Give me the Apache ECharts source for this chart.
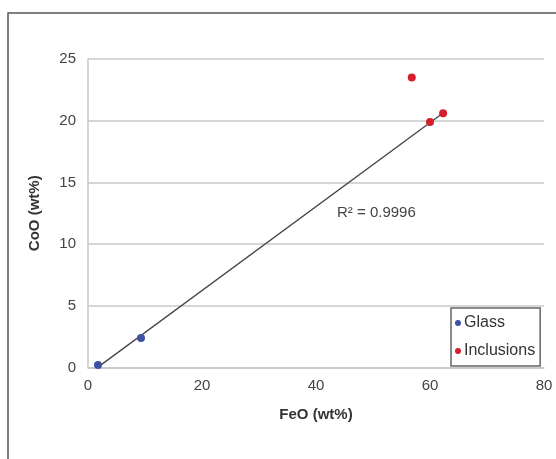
<!DOCTYPE html>
<html>
<head>
<meta charset="utf-8">
<script src="https://cdn.jsdelivr.net/npm/echarts@6/dist/echarts.min.js"></script>
<style>
  html, body { margin: 0; padding: 0; background: #fff; }
  #chart { width: 556px; height: 459px; }
</style>
</head>
<body>
<div id="chart"></div>
<script>
// FeO vs CoO (wt%) measurements
const glassFeO = [1.75, 9.3];
const glassCoO = [0.2, 2.4];
const inclFeO = [56.8, 60.0, 62.3];
const inclCoO = [23.5, 19.9, 20.6];
// inclusions that follow the trend (the high-CoO point is left out of the fit)
const inclOnTrend = [false, true, true];

const xTicks = [0, 20, 40, 60, 80];
const yTicks = [0, 5, 10, 15, 20, 25];
const r2Label = 'R² = 0.9996';

const FONT = '"Liberation Sans", Arial, sans-serif';

const glassData = glassFeO.map((x, i) => [x, glassCoO[i]]);
const inclData = inclFeO.map((x, i) => [x, inclCoO[i]]);

// least-squares line through glass + on-trend inclusions
const fitPts = glassData.concat(inclData.filter((p, i) => inclOnTrend[i]));
const n = fitPts.length;
const mx = fitPts.reduce((s, p) => s + p[0], 0) / n;
const my = fitPts.reduce((s, p) => s + p[1], 0) / n;
let sxy = 0, sxx = 0;
fitPts.forEach(p => { sxy += (p[0] - mx) * (p[1] - my); sxx += (p[0] - mx) ** 2; });
const slope = sxy / sxx;
const icpt = my - slope * mx;
const xMin = Math.min(...fitPts.map(p => p[0]));
const xMax = Math.max(...fitPts.map(p => p[0]));
const trendData = [[xMin, icpt + slope * xMin], [xMax, icpt + slope * xMax]];

const chart = echarts.init(document.getElementById('chart'), null, { renderer: 'canvas' });

chart.setOption({
  animation: false,
  backgroundColor: '#fff',
  grid: { left: 88, top: 59, right: 12, bottom: 91.5, containLabel: false },
  xAxis: {
    type: 'value',
    min: xTicks[0], max: xTicks[xTicks.length - 1], interval: 20,
    name: 'FeO (wt%)',
    nameLocation: 'middle',
    nameGap: 40,
    nameTextStyle: { fontFamily: FONT, fontSize: 15, fontWeight: 'bold', color: '#333' },
    axisLine: { show: true, lineStyle: { color: '#c8c8c8', width: 1.5 } },
    axisTick: { show: false },
    splitLine: { show: false },
    axisLabel: { fontFamily: FONT, fontSize: 15, color: '#444', margin: 11 }
  },
  yAxis: {
    type: 'value',
    min: yTicks[0], max: yTicks[yTicks.length - 1], interval: 5,
    name: 'CoO (wt%)',
    nameLocation: 'middle',
    nameGap: 46,
    nameTextStyle: { fontFamily: FONT, fontSize: 15, fontWeight: 'bold', color: '#333' },
    axisLine: { show: true, lineStyle: { color: '#c8c8c8', width: 1.5 } },
    axisTick: { show: false },
    splitLine: { show: true, lineStyle: { color: '#c8c8c8', width: 1.5 } },
    axisLabel: { fontFamily: FONT, fontSize: 15, color: '#444', margin: 12 }
  },
  legend: {
    orient: 'vertical',
    left: 451, top: 308,
    padding: [7, 5, 7, 4],
    itemGap: 12,
    itemWidth: 6, itemHeight: 6,
    icon: 'circle',
    borderColor: '#666', borderWidth: 1.5,
    backgroundColor: '#fff',
    textStyle: { fontFamily: FONT, fontSize: 16, color: '#333', padding: [0, 0, 0, -2] },
    data: ['Glass', 'Inclusions']
  },
  series: [
    {
      name: 'Trend',
      type: 'line',
      data: trendData,
      symbol: 'none',
      lineStyle: { color: '#444', width: 1.3 },
      z: 1,
      silent: true
    },
    {
      name: 'Glass',
      type: 'scatter',
      data: glassData,
      symbolSize: 8,
      itemStyle: { color: '#3f51a5', opacity: 1 },
      z: 3
    },
    {
      name: 'Inclusions',
      type: 'scatter',
      data: inclData,
      symbolSize: 8,
      itemStyle: { color: '#d41f2c', opacity: 1 },
      z: 3
    }
  ],
  graphic: [
    {
      type: 'rect',
      shape: { x: 8, y: 13, width: 620, height: 520 },
      style: { fill: 'none', stroke: '#555', lineWidth: 1.5 },
      silent: true, z: -1
    },
    {
      type: 'text',
      left: 337, top: 205,
      style: { text: r2Label, fontFamily: FONT, fontSize: 15, fill: '#444' },
      z: 10
    }
  ]
});
</script>
</body>
</html>
